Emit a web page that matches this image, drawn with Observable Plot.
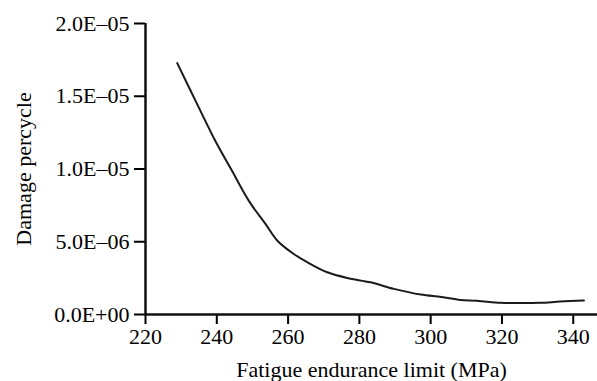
<!DOCTYPE html>
<html>
<head>
<meta charset="utf-8">
<script src="https://cdn.jsdelivr.net/npm/d3@7"></script>
<script src="https://cdn.jsdelivr.net/npm/@observablehq/plot@0.6"></script>
<style>
  html, body { margin: 0; padding: 0; background: #fff; }
  #chart svg { display: block; }
</style>
</head>
<body>
<div id="chart"></div>
<script>
// Fatigue endurance limit (MPa)
const limitMPa = [228.9, 235.0, 239.6, 244.3, 249.0, 253.7, 257.0, 261.6, 266.3, 271.0, 276.6, 283.1, 289.7, 297.2, 303.0, 308.4, 313.0, 319.6, 325.0, 330.8, 336.4, 343.0];
// Damage per cycle
const damage = [17.28e-6, 14.2e-6, 11.92e-6, 9.86e-6, 7.81e-6, 6.21e-6, 5.07e-6, 4.16e-6, 3.47e-6, 2.9e-6, 2.51e-6, 2.21e-6, 1.76e-6, 1.37e-6, 1.2e-6, 1.0e-6, 0.95e-6, 0.8e-6, 0.79e-6, 0.8e-6, 0.89e-6, 0.96e-6];

const xTicks = [220, 240, 260, 280, 300, 320, 340];
const yTicks = [0, 5e-6, 1e-5, 1.5e-5, 2e-5];
const yTickLabels = ["0.0E+00", "5.0E\u201306", "1.0E\u201305", "1.5E\u201305", "2.0E\u201305"];
const xTitle = "Fatigue endurance limit (MPa)";
const yTitle = "Damage percycle";

const rows = limitMPa.map((x, i) => ({x, y: damage[i]}));
const yLabelOf = v => yTickLabels[yTicks.findIndex(t => Math.abs(t - v) < 1e-12)];

const chart = Plot.plot({
  width: 597,
  height: 381,
  marginLeft: 145,
  marginRight: 0,
  marginTop: 23,
  marginBottom: 67,
  style: {fontFamily: "'Liberation Serif', 'Times New Roman', serif", fontSize: "22px", color: "#000", background: "#fff", overflow: "visible"},
  x: {domain: [220, 346.8]},
  y: {domain: [0, 2e-5]},
  marks: [
    Plot.axisX({ticks: xTicks, tickFormat: d => String(d), tickSize: 10, tickPadding: 4, strokeWidth: 2,
      label: null, fontSize: 22}),
    Plot.axisY({ticks: yTicks, tickFormat: yLabelOf, tickSize: 11, tickPadding: 5, strokeWidth: 2,
      label: null, fontSize: 22}),
    Plot.text([xTitle], {frameAnchor: "bottom", text: d => d, dy: 47, lineAnchor: "top", textAnchor: "middle", fontSize: 22, fill: "#000"}),
    Plot.text([yTitle], {frameAnchor: "left", text: d => d, rotate: -90, dx: -122, textAnchor: "middle", fontSize: 22, fill: "#000"}),
    Plot.ruleX([220], {stroke: "#111", strokeWidth: 2.5}),
    Plot.ruleY([0], {stroke: "#111", strokeWidth: 2.5}),
    Plot.line(rows, {x: "x", y: "y", curve: "catmull-rom", stroke: "#1a1a1a", strokeWidth: 2})
  ]
});
document.getElementById("chart").append(chart);
</script>
</body>
</html>
